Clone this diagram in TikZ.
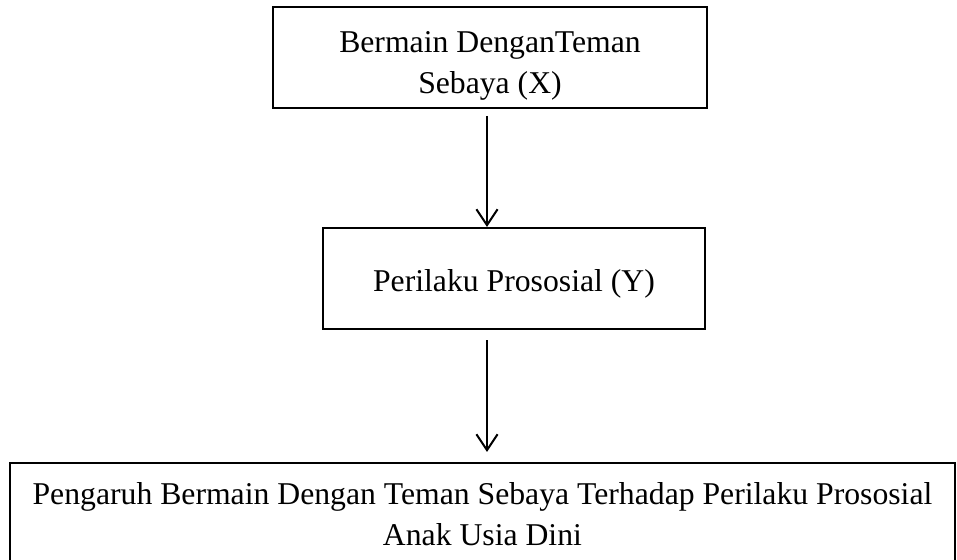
\documentclass[tikz,border=0pt]{standalone}
\usepackage{fontspec}
\setmainfont{Liberation Serif}
\usetikzlibrary{arrows.meta}
\newcommand{\px}{0.3785pt}
\begin{document}
\begin{tikzpicture}[x=0.3785pt,y=-0.3785pt,>={Straight Barb[length=6pt,width=8pt]},font=\fontsize{12}{15.2}\selectfont,
		kotak/.style={draw,line width=0.8pt,inner sep=0pt,align=center,text depth=0pt},
		panah/.style={->,line width=0.75pt}]
			\useasboundingbox (0,0) rectangle (957,560);
			\node[kotak,text height=26.9pt,minimum width=434*\px,minimum height=101*\px] (bermain) at (490,57.5) {Bermain DenganTeman\\Sebaya (X)};
			\node[kotak,text height=9.5pt,minimum width=382*\px,minimum height=101*\px] (perilaku) at (514,278.5) {Perilaku Prososial (Y)};
			\node[kotak,text height=21.6pt,minimum width=945*\px,minimum height=107*\px] (pengaruh) at (482.5,516.5) {Pengaruh Bermain Dengan Teman Sebaya Terhadap Perilaku Prososial\\Anak Usia Dini};
			\coordinate (garis) at (487,0);
			\draw[panah,shorten <=2.6pt] (bermain.south -| garis)--(perilaku.north -| garis);
			\draw[panah,shorten <=3.8pt,shorten >=3.8pt] (perilaku.south -| garis)--(pengaruh.north -| garis);
	\end{tikzpicture}
\end{document}
